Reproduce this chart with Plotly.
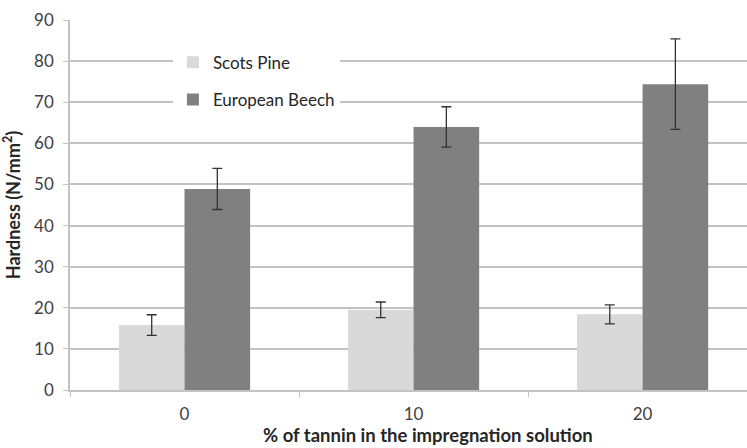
import plotly.graph_objects as go

# Tannin content of the impregnation solution (%)
categories = ["0", "10", "20"]

# Mean hardness and standard deviation (N/mm²)
pine_hardness = [15.8, 19.5, 18.4]
pine_sd = [2.5, 1.9, 2.3]
beech_hardness = [48.9, 64.0, 74.4]
beech_sd = [5.0, 4.9, 11.0]

y_ticks = [0, 10, 20, 30, 40, 50, 60, 70, 80, 90]

FONT = "Lato, 'Open Sans', sans-serif"
TEXT = "#404040"
GRID = "#c3c3c3"
ERR = "#333333"

fig = go.Figure()
fig.add_trace(go.Bar(
    name="Scots Pine", x=categories, y=pine_hardness,
    marker=dict(color="#d9d9d9", line=dict(width=0)),
    error_y=dict(type="data", array=pine_sd, color=ERR, thickness=1.3, width=5),
    legendgroup="pine",
))
fig.add_trace(go.Bar(
    name="European Beech", x=categories, y=beech_hardness,
    marker=dict(color="#808080", line=dict(width=0)),
    error_y=dict(type="data", array=beech_sd, color=ERR, thickness=1.3, width=5),
    legendgroup="beech",
))

fig.update_layout(
    width=747, height=448,
    margin=dict(l=70, r=0, t=20, b=58),
    paper_bgcolor="white", plot_bgcolor="white",
    font=dict(family=FONT, size=17, color=TEXT),
    barmode="group", bargap=0.427, bargroupgap=0,
    showlegend=True,
    legend=dict(
        x=0.152, y=0.933, xanchor="left", yanchor="top",
        bgcolor="white", borderwidth=0,
        font=dict(family=FONT, size=17, color="#262626"),
        tracegroupgap=12, itemwidth=30,
    ),
    xaxis=dict(
        type="category", categoryorder="array", categoryarray=categories,
        range=[-0.5, 2.456],
        showgrid=False, showline=True, linecolor=GRID, linewidth=1.5,
        ticks="outside", tickson="boundaries", ticklen=5, tickcolor=GRID,
        ticklabelstandoff=8,
        tickfont=dict(size=17, color=TEXT),
        zeroline=False,
    ),
    yaxis=dict(
        range=[0, 90], tickvals=y_ticks,
        showgrid=True, gridcolor=GRID, gridwidth=1.5,
        showline=True, linecolor=GRID, linewidth=1.5,
        ticks="outside", ticklen=5, tickcolor=GRID,
        ticklabelstandoff=6,
        tickfont=dict(size=17, color=TEXT),
        title=dict(text="<b>Hardness (N/mm<sup>2</sup>)</b>",
                   font=dict(size=18, color="#262626"), standoff=11),
        zeroline=False,
    ),
    annotations=[dict(
        text="<b>% of tannin in the impregnation solution</b>",
        xref="paper", yref="paper", x=0.529, y=-0.154,
        xanchor="center", yanchor="bottom", showarrow=False, borderpad=0,
        font=dict(family=FONT, size=18.5, color="#262626"),
    )],
)

fig.write_html("out.html")
